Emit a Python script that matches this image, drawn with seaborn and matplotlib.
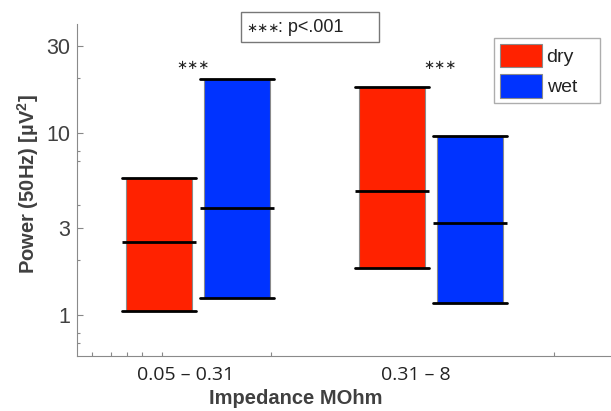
import numpy as np
import pandas as pd
import matplotlib
matplotlib.use("Agg")
import matplotlib.pyplot as plt
from matplotlib.patches import Rectangle
from matplotlib.ticker import FixedLocator, FixedFormatter, NullFormatter
import seaborn as sns

# Power-line noise per impedance bin and electrode type (min / median / max)
impedance_bins = ["0.05 – 0.31", "0.31 – 8"]
electrode_types = ["dry", "wet"]
power_low = {"dry": [1.05, 1.82], "wet": [1.24, 1.16]}
power_median = {"dry": [2.52, 4.82], "wet": [3.87, 3.19]}
power_high = {"dry": [5.66, 17.9], "wet": [19.8, 9.63]}
significance = ["∗∗∗", "∗∗∗"]
y_ticks = [1, 3, 10, 30]
y_minor_ticks = [0.7, 0.8, 2, 4, 7, 8, 20]
palette = {"dry": "#ff2200", "wet": "#0033ff"}

# Long-form table: repeating the extremes makes the quartiles equal min / max,
# so each box spans the full range with the median inside.
rows = []
for e in electrode_types:
    for i, b in enumerate(impedance_bins):
        lo, md, hi = power_low[e][i], power_median[e][i], power_high[e][i]
        for v in (lo, lo, md, hi, hi):
            rows.append({"Impedance": b, "Electrode": e, "Power": v})
df = pd.DataFrame(rows)

sns.set_style("white")
plt.rcParams["font.family"] = ["Liberation Sans", "DejaVu Sans"]
plt.rcParams["mathtext.default"] = "regular"

fig = plt.figure(figsize=(6.11, 4.11), dpi=100)
ax = fig.add_axes([77 / 611, 55 / 411, 534 / 611, 332 / 411])

sns.boxplot(
    data=df, x="Impedance", y="Power", hue="Electrode",
    order=impedance_bins, hue_order=electrode_types, palette=palette,
    width=0.67, gap=0.155, log_scale=True, saturation=1,
    linecolor="#8a8a8a", linewidth=0.8, showfliers=False,
    capwidths=0.318,
    medianprops=dict(color="black", linewidth=2.0, gid="median"),
    capprops=dict(color="black", linewidth=2.0),
    whiskerprops=dict(linewidth=0),
    ax=ax,
)

# Median bars as wide as the caps
for line in ax.lines:
    if line.get_gid() == "median":
        x = np.asarray(line.get_xdata(), float)
        c = x.mean()
        line.set_xdata([c - 0.159, c + 0.159])

ax.set_ylim(0.595, 39.7)
ax.set_xlim(-0.519, 1.773)

ax.yaxis.set_major_locator(FixedLocator(y_ticks))
ax.yaxis.set_major_formatter(FixedFormatter([str(t) for t in y_ticks]))
ax.yaxis.set_minor_locator(FixedLocator(y_minor_ticks))
ax.yaxis.set_minor_formatter(NullFormatter())
ax.tick_params(axis="y", which="major", left=True, direction="in", length=4.5, width=0.8,
               color="#888888", labelsize=15.5, labelcolor="#404040", pad=5)
ax.tick_params(axis="y", which="minor", left=True, direction="in", length=2.5, width=0.8,
               color="#888888")

ax.set_xticks([-0.0515, 0.936], labels=impedance_bins)
ax.xaxis.set_minor_locator(FixedLocator([-0.455, -0.373, -0.305, -0.240, -0.155, 0.313, 1.528]))
ax.tick_params(axis="x", which="major", length=0, labelsize=14, labelcolor="#222222",
               labelfontfamily="Open Sans", pad=7)
ax.tick_params(axis="x", which="minor", bottom=True, direction="in", length=3, width=0.8,
               color="#888888")

for s in ("top", "right"):
    ax.spines[s].set_visible(False)
for s in ("left", "bottom"):
    ax.spines[s].set_color("#8a8a8a")
    ax.spines[s].set_linewidth(0.8)

ax.set_xlabel("Impedance MOhm", fontsize=14.5, fontweight="bold", color="#404040")
ax.xaxis.set_label_coords(0.41, -0.099)
ax.set_ylabel("Power (50Hz) [µV$^2$]", fontsize=14.5, fontweight="bold", color="#404040")
ax.yaxis.set_label_coords(-0.068, 0.517)

# Significance markers above each impedance bin
for i, (mark, dx) in enumerate(zip(significance, [-0.02, 0.04])):
    ax.text(i + dx, 23.6, mark, ha="center", va="center", fontsize=9.5,
            family="DejaVu Sans", color="#222222")

# Key for the significance markers
fig.patches.append(Rectangle((241 / 611, 1 - 42 / 411), 138 / 611, 30 / 411,
                             transform=fig.transFigure, fill=False,
                             edgecolor="#777777", linewidth=1))
fig.text(246 / 611, 1 - 29 / 411, "∗∗∗", ha="left", va="center", fontsize=9.5,
         family="DejaVu Sans", color="#222222")
fig.text(278 / 611, 1 - 28 / 411, ": p<.001", ha="left", va="center", fontsize=13,
         color="#222222")

sns.move_legend(ax, "upper left", bbox_to_anchor=(0.781, 0.758, 0.1985, 0.2),
                mode="expand", title=None,
                frameon=True, fancybox=False, fontsize=14, borderaxespad=0,
                handlelength=2.15, handleheight=1.5, labelspacing=0.33,
                borderpad=0.3, handletextpad=0.25)
leg = ax.get_legend()
leg.get_frame().set_edgecolor("#999999")
leg.get_frame().set_linewidth(1)
for t in leg.get_texts():
    t.set_color("#222222")

fig.savefig("out.png", dpi=100)
